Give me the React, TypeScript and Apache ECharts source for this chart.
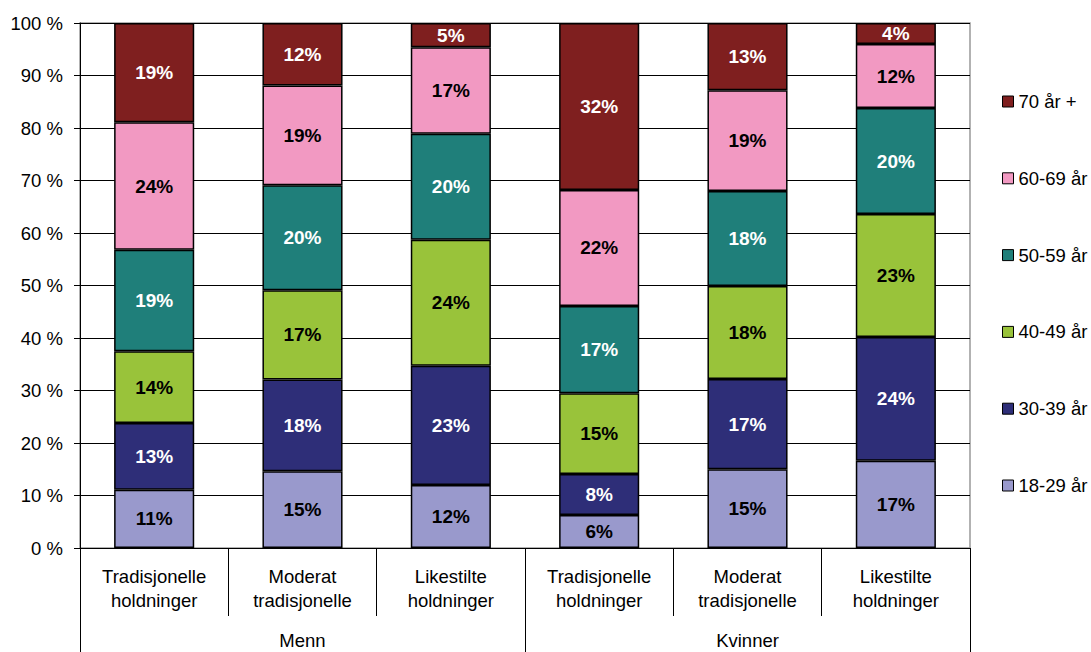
import React, { useEffect, useRef } from "react";
import * as echarts from "echarts";

const categories = [
  "Tradisjonelle\nholdninger",
  "Moderat\ntradisjonelle",
  "Likestilte\nholdninger",
  "Tradisjonelle\nholdninger",
  "Moderat\ntradisjonelle",
  "Likestilte\nholdninger",
];
const groups = ["Menn", "Kvinner"];
const yTicks = [0, 10, 20, 30, 40, 50, 60, 70, 80, 90, 100];

const age1829 = [11.1, 14.6, 12.0, 6.3, 15.0, 16.6];
const age3039 = [12.7, 17.5, 22.7, 7.8, 17.2, 23.6];
const age4049 = [13.7, 17.0, 24.0, 15.4, 17.7, 23.4];
const age5059 = [19.3, 20.0, 20.2, 16.6, 18.1, 20.2];
const age6069 = [24.3, 19.0, 16.5, 22.1, 19.2, 12.2];
const age70 = [18.9, 11.9, 4.6, 31.8, 12.8, 4.0];

const seriesDefs = [
  { name: "18-29 år", data: age1829, color: "#9999CC", text: "#000" },
  { name: "30-39 år", data: age3039, color: "#2E2E78", text: "#fff" },
  { name: "40-49 år", data: age4049, color: "#99C33A", text: "#000" },
  { name: "50-59 år", data: age5059, color: "#1F7F7A", text: "#fff" },
  { name: "60-69 år", data: age6069, color: "#F299C2", text: "#000" },
  { name: "70 år +", data: age70, color: "#7F1F1F", text: "#fff" },
];

export default function App() {
  const ref = useRef<HTMLDivElement>(null);
  useEffect(() => {
    if (!ref.current) return;
    const chart = echarts.init(ref.current, null, { renderer: "svg" });
    const font = "Liberation Sans, Arial, sans-serif";
    const fs = 18.5;
    chart.setOption({
      animation: false,
      textStyle: { fontFamily: font, color: "#000" },
      grid: {
        left: 80,
        right: 121,
        top: 23,
        bottom: 104,
        show: true,
        borderColor: "#999",
        borderWidth: 1.5,
      },
      legend: {
        orient: "vertical",
        left: 997,
        top: 87,
        itemWidth: 11,
        itemHeight: 11,
        itemGap: 57.8,
        icon: "rect",
        data: seriesDefs.map((s) => s.name).reverse(),
        textStyle: { fontSize: fs, color: "#000", fontFamily: font },
        itemStyle: { borderColor: "#000", borderWidth: 1 },
      },
      xAxis: [
        {
          type: "category",
          data: categories,
          position: "bottom",
          axisLine: { lineStyle: { color: "#000", width: 1 } },
          axisTick: { show: true, interval: 0, length: 68, lineStyle: { color: "#000" } },
          axisLabel: {
            interval: 0,
            fontSize: fs,
            lineHeight: 24,
            margin: 16,
            color: "#000",
            fontFamily: font,
          },
        },
        {
          type: "category",
          data: groups,
          position: "bottom",
          axisLine: { show: false },
          axisTick: { show: true, interval: 0, length: 104, lineStyle: { color: "#000" } },
          axisLabel: { fontSize: fs, margin: 83, color: "#000", fontFamily: font },
          splitLine: { show: false },
        },
      ],
      yAxis: {
        type: "value",
        min: yTicks[0],
        max: yTicks[yTicks.length - 1],
        interval: 10,
        axisLine: { show: true, lineStyle: { color: "#000" } },
        axisTick: { show: true, length: 6, lineStyle: { color: "#000" } },
        axisLabel: {
          formatter: "{value} %",
          fontSize: fs,
          margin: 17,
          color: "#000",
          fontFamily: font,
        },
        splitLine: { lineStyle: { color: "#000", width: 1 } },
      },
      series: seriesDefs.map((s) => ({
        name: s.name,
        type: "bar",
        stack: "total",
        barWidth: "54%",
        data: s.data,
        itemStyle: { color: s.color, borderColor: "#000", borderWidth: 1.5 },
        label: {
          show: true,
          position: "inside",
          formatter: (p: any) => Math.round(p.value) + "%",
          fontSize: 19,
          fontWeight: "bold",
          color: s.text,
          fontFamily: font,
          textBorderWidth: 0,
        },
      })),
    });
    return () => chart.dispose();
  }, []);
  return <div ref={ref} style={{ width: 1091, height: 652, position: "absolute", left: 0, top: 0 }} />;
}
